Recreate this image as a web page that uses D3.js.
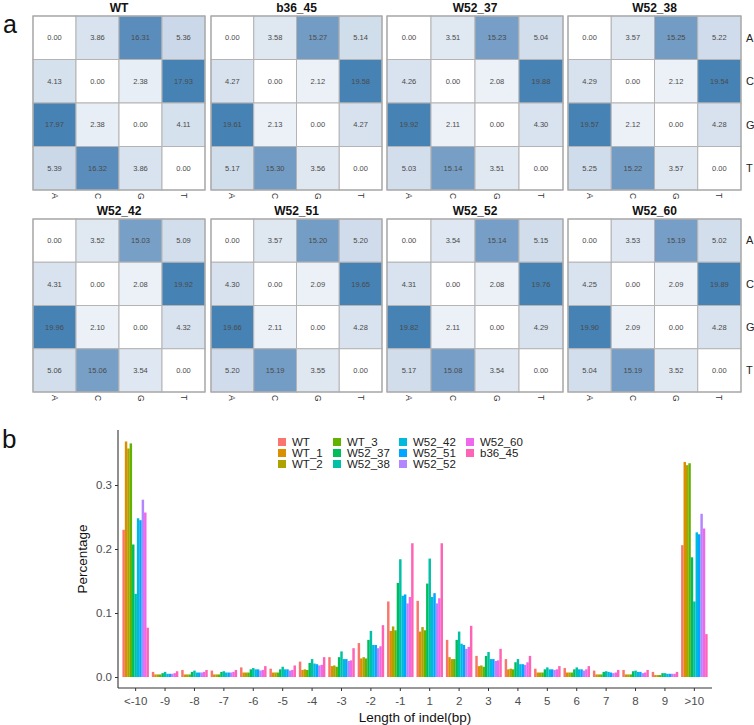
<!DOCTYPE html>
<html><head><meta charset="utf-8">
<script src="https://cdn.jsdelivr.net/npm/d3@7"></script>
<style>body{margin:0;background:#fff}svg{display:block}text{font-family:"Liberation Sans",Arial,sans-serif}</style>
</head><body>
<svg id="c" width="754" height="725"></svg>
<script>
// ---------- Panel a: substitution matrices ----------
const bases = ["A","C","G","T"];
const panelNames = ["WT","b36_45","W52_37","W52_38","W52_42","W52_51","W52_52","W52_60"];
const mWT     = [[0.00,3.86,16.31,5.36],[4.13,0.00,2.38,17.93],[17.97,2.38,0.00,4.11],[5.39,16.32,3.86,0.00]];
const mB36_45 = [[0.00,3.58,15.27,5.14],[4.27,0.00,2.12,19.58],[19.61,2.13,0.00,4.27],[5.17,15.30,3.56,0.00]];
const mW52_37 = [[0.00,3.51,15.23,5.04],[4.26,0.00,2.08,19.88],[19.92,2.11,0.00,4.30],[5.03,15.14,3.51,0.00]];
const mW52_38 = [[0.00,3.57,15.25,5.22],[4.29,0.00,2.12,19.54],[19.57,2.12,0.00,4.28],[5.25,15.22,3.57,0.00]];
const mW52_42 = [[0.00,3.52,15.03,5.09],[4.31,0.00,2.08,19.92],[19.96,2.10,0.00,4.32],[5.06,15.06,3.54,0.00]];
const mW52_51 = [[0.00,3.57,15.20,5.20],[4.30,0.00,2.09,19.65],[19.66,2.11,0.00,4.28],[5.20,15.19,3.55,0.00]];
const mW52_52 = [[0.00,3.54,15.14,5.15],[4.31,0.00,2.08,19.76],[19.82,2.11,0.00,4.29],[5.17,15.08,3.54,0.00]];
const mW52_60 = [[0.00,3.53,15.19,5.02],[4.25,0.00,2.09,19.89],[19.90,2.09,0.00,4.28],[5.04,15.19,3.52,0.00]];
const matrices = [mWT,mB36_45,mW52_37,mW52_38,mW52_42,mW52_51,mW52_52,mW52_60];

// ---------- Panel b: indel length distribution ----------
const categories = ["<-10","-9","-8","-7","-6","-5","-4","-3","-2","-1","1","2","3","4","5","6","7","8","9",">10"];
const seriesNames = ["WT","WT_1","WT_2","WT_3","W52_37","W52_38","W52_42","W52_51","W52_52","W52_60","b36_45"];
const vWT     = [0.230,0.008,0.011,0.010,0.015,0.013,0.024,0.031,0.053,0.118,0.119,0.058,0.033,0.028,0.013,0.014,0.010,0.011,0.008,0.206];
const vWT_1   = [0.368,0.004,0.004,0.004,0.007,0.007,0.011,0.017,0.029,0.072,0.071,0.031,0.017,0.012,0.007,0.007,0.004,0.004,0.003,0.336];
const vWT_2   = [0.357,0.004,0.004,0.004,0.007,0.007,0.012,0.018,0.031,0.079,0.078,0.028,0.018,0.013,0.007,0.007,0.004,0.004,0.003,0.331];
const vWT_3   = [0.365,0.004,0.004,0.004,0.007,0.007,0.011,0.016,0.029,0.073,0.073,0.028,0.016,0.012,0.007,0.007,0.004,0.004,0.003,0.334];
const vW52_37 = [0.207,0.006,0.008,0.008,0.012,0.012,0.022,0.031,0.058,0.147,0.146,0.058,0.033,0.023,0.012,0.012,0.008,0.009,0.006,0.187];
const vW52_38 = [0.130,0.008,0.010,0.009,0.014,0.016,0.028,0.040,0.072,0.184,0.185,0.071,0.039,0.028,0.015,0.015,0.009,0.010,0.006,0.118];
const vW52_42 = [0.248,0.005,0.007,0.007,0.012,0.012,0.021,0.028,0.050,0.127,0.125,0.052,0.028,0.020,0.012,0.012,0.008,0.008,0.005,0.226];
const vW52_51 = [0.245,0.005,0.007,0.007,0.012,0.012,0.020,0.028,0.050,0.129,0.131,0.050,0.028,0.020,0.012,0.012,0.007,0.008,0.005,0.223];
const vW52_52 = [0.277,0.005,0.007,0.007,0.010,0.010,0.018,0.025,0.045,0.115,0.115,0.044,0.025,0.019,0.011,0.010,0.006,0.006,0.005,0.255];
const vW52_60 = [0.257,0.006,0.008,0.008,0.011,0.011,0.019,0.026,0.048,0.125,0.123,0.047,0.026,0.023,0.012,0.012,0.007,0.007,0.005,0.232];
const vB36_45 = [0.077,0.009,0.011,0.011,0.017,0.018,0.031,0.045,0.081,0.209,0.209,0.080,0.044,0.033,0.017,0.017,0.011,0.011,0.008,0.067];
const seriesValues = [vWT,vWT_1,vWT_2,vWT_3,vW52_37,vW52_38,vW52_42,vW52_51,vW52_52,vW52_60,vB36_45];
const seriesColors = ["#F8766D","#DB8E00","#AEA200","#64B200","#00BD5C","#00C1A7","#00BADE","#00A6FF","#B385FF","#EF67EB","#FF63B6"];
const yTicks = [0.0,0.1,0.2,0.3];

const svg = d3.select("#c");

// ---- panel a ----
const colLefts = [33,211,387,568], colRights = [205,382,563,741];
const rowTops = [16,219], rowBottoms = [190,392];
svg.append("text").attr("x",3).attr("y",33).attr("font-size",25).attr("fill","#111").text("a");

matrices.forEach((m,pi)=>{
  const r = Math.floor(pi/4), c = pi%4;
  const g = svg.append("g");
  const x = d3.scaleBand().domain(bases).range([colLefts[c],colRights[c]]);
  const y = d3.scaleBand().domain(bases).range([rowTops[r],rowBottoms[r]]);
  const mx = d3.max(m.flat());
  const col = d3.scaleLinear().domain([0,mx]).range(["#ffffff","#4682B4"]).interpolate(d3.interpolateLab);
  const cells = [];
  m.forEach((row,i)=>row.forEach((v,j)=>cells.push({r:bases[i],c:bases[j],v})));
  g.selectAll("rect.cell").data(cells).join("rect")
    .attr("x",d=>x(d.c)).attr("y",d=>y(d.r))
    .attr("width",x.bandwidth()).attr("height",y.bandwidth())
    .attr("fill",d=>col(d.v)).attr("stroke","#b4b4b4").attr("stroke-width",1);
  g.selectAll("text.val").data(cells).join("text")
    .attr("x",d=>x(d.c)+x.bandwidth()/2).attr("y",d=>y(d.r)+y.bandwidth()/2)
    .attr("dy","0.35em").attr("text-anchor","middle").attr("font-size",7.5)
    .attr("fill","#4a4a4a").text(d=>d.v.toFixed(2));
  g.append("rect").attr("x",colLefts[c]).attr("y",rowTops[r])
    .attr("width",colRights[c]-colLefts[c]).attr("height",rowBottoms[r]-rowTops[r])
    .attr("fill","none").attr("stroke","#a8a8a8").attr("stroke-width",1.2);
  g.append("text").attr("x",(colLefts[c]+colRights[c])/2).attr("y",rowTops[r]-4)
    .attr("text-anchor","middle").attr("font-size",12).attr("font-weight","bold")
    .attr("fill","#111").text(panelNames[pi]);
  bases.forEach(b=>{
    g.append("text").attr("transform",`translate(${x(b)+x.bandwidth()/2},${rowBottoms[r]+3}) rotate(90)`)
      .attr("dy","0.35em").attr("font-size",8.5).attr("fill","#333").text(b);
  });
  if(c===3){
    bases.forEach(b=>{
      g.append("text").attr("x",colRights[c]+5).attr("y",y(b)+y.bandwidth()/2)
        .attr("dy","0.35em").attr("font-size",11).attr("fill","#222").text(b);
    });
  }
});

// ---- panel b ----
svg.append("text").attr("x",2).attr("y",448).attr("font-size",26).attr("fill","#111").text("b");
const pLeft=118, pRight=712, pTop=430, pBottom=688;
const xb = d3.scaleBand().domain(categories).range([pLeft,pRight]).paddingInner(0.1).paddingOuter(0.15);
const xs = d3.scaleBand().domain(seriesNames).range([0,xb.bandwidth()]);
const yb = d3.scaleLinear().domain([0,0.3]).range([677,485]);

const bars = [];
seriesNames.forEach((s,si)=>categories.forEach((cat,ci)=>bars.push({s,cat,v:seriesValues[si][ci],color:seriesColors[si]})));
svg.append("g").selectAll("rect").data(bars).join("rect")
  .attr("x",d=>xb(d.cat)+xs(d.s)).attr("width",xs.bandwidth()+0.05)
  .attr("y",d=>yb(d.v)).attr("height",d=>yb(0)-yb(d.v)).attr("fill",d=>d.color);

// axes
const yAxis = d3.axisLeft(yb).tickValues(yTicks).tickFormat(d3.format(".1f")).tickSize(3).tickPadding(3);
const ga = svg.append("g").attr("transform",`translate(${pLeft},0)`).call(yAxis);
ga.select(".domain").remove();
ga.selectAll(".tick line").attr("stroke","#333");
ga.selectAll(".tick text").attr("font-size",11.5).attr("fill","#4d4d4d").attr("font-family","Liberation Sans, Arial, sans-serif");
const xAxis = d3.axisBottom(xb).tickSize(3).tickPadding(6);
const gx = svg.append("g").attr("transform",`translate(0,${pBottom})`).call(xAxis);
gx.select(".domain").remove();
gx.selectAll(".tick line").attr("stroke","#333");
gx.selectAll(".tick text").attr("font-size",11.5).attr("fill","#4d4d4d").attr("font-family","Liberation Sans, Arial, sans-serif");
svg.append("line").attr("x1",pLeft).attr("x2",pLeft).attr("y1",pTop).attr("y2",pBottom).attr("stroke","#333").attr("stroke-width",1.1);
svg.append("line").attr("x1",pLeft).attr("x2",pRight).attr("y1",pBottom).attr("y2",pBottom).attr("stroke","#333").attr("stroke-width",1.1);

svg.append("text").attr("x",415).attr("y",722).attr("text-anchor","middle").attr("font-size",13.5).attr("fill","#111").text("Length of indel(bp)");
svg.append("text").attr("transform","translate(87,559) rotate(-90)").attr("text-anchor","middle").attr("font-size",13.5).attr("fill","#111").text("Percentage");

// legend
const legX = [278,333,399,466], legY = [438,449,460];
seriesNames.forEach((s,i)=>{
  const c = Math.floor(i/3), r = i%3;
  svg.append("rect").attr("x",legX[c]).attr("y",legY[r]).attr("width",8).attr("height",8).attr("fill",seriesColors[i]);
  svg.append("text").attr("x",legX[c]+14).attr("y",legY[r]+4).attr("dy","0.35em").attr("font-size",11.5).attr("fill","#222").text(s);
});
</script>
</body></html>
